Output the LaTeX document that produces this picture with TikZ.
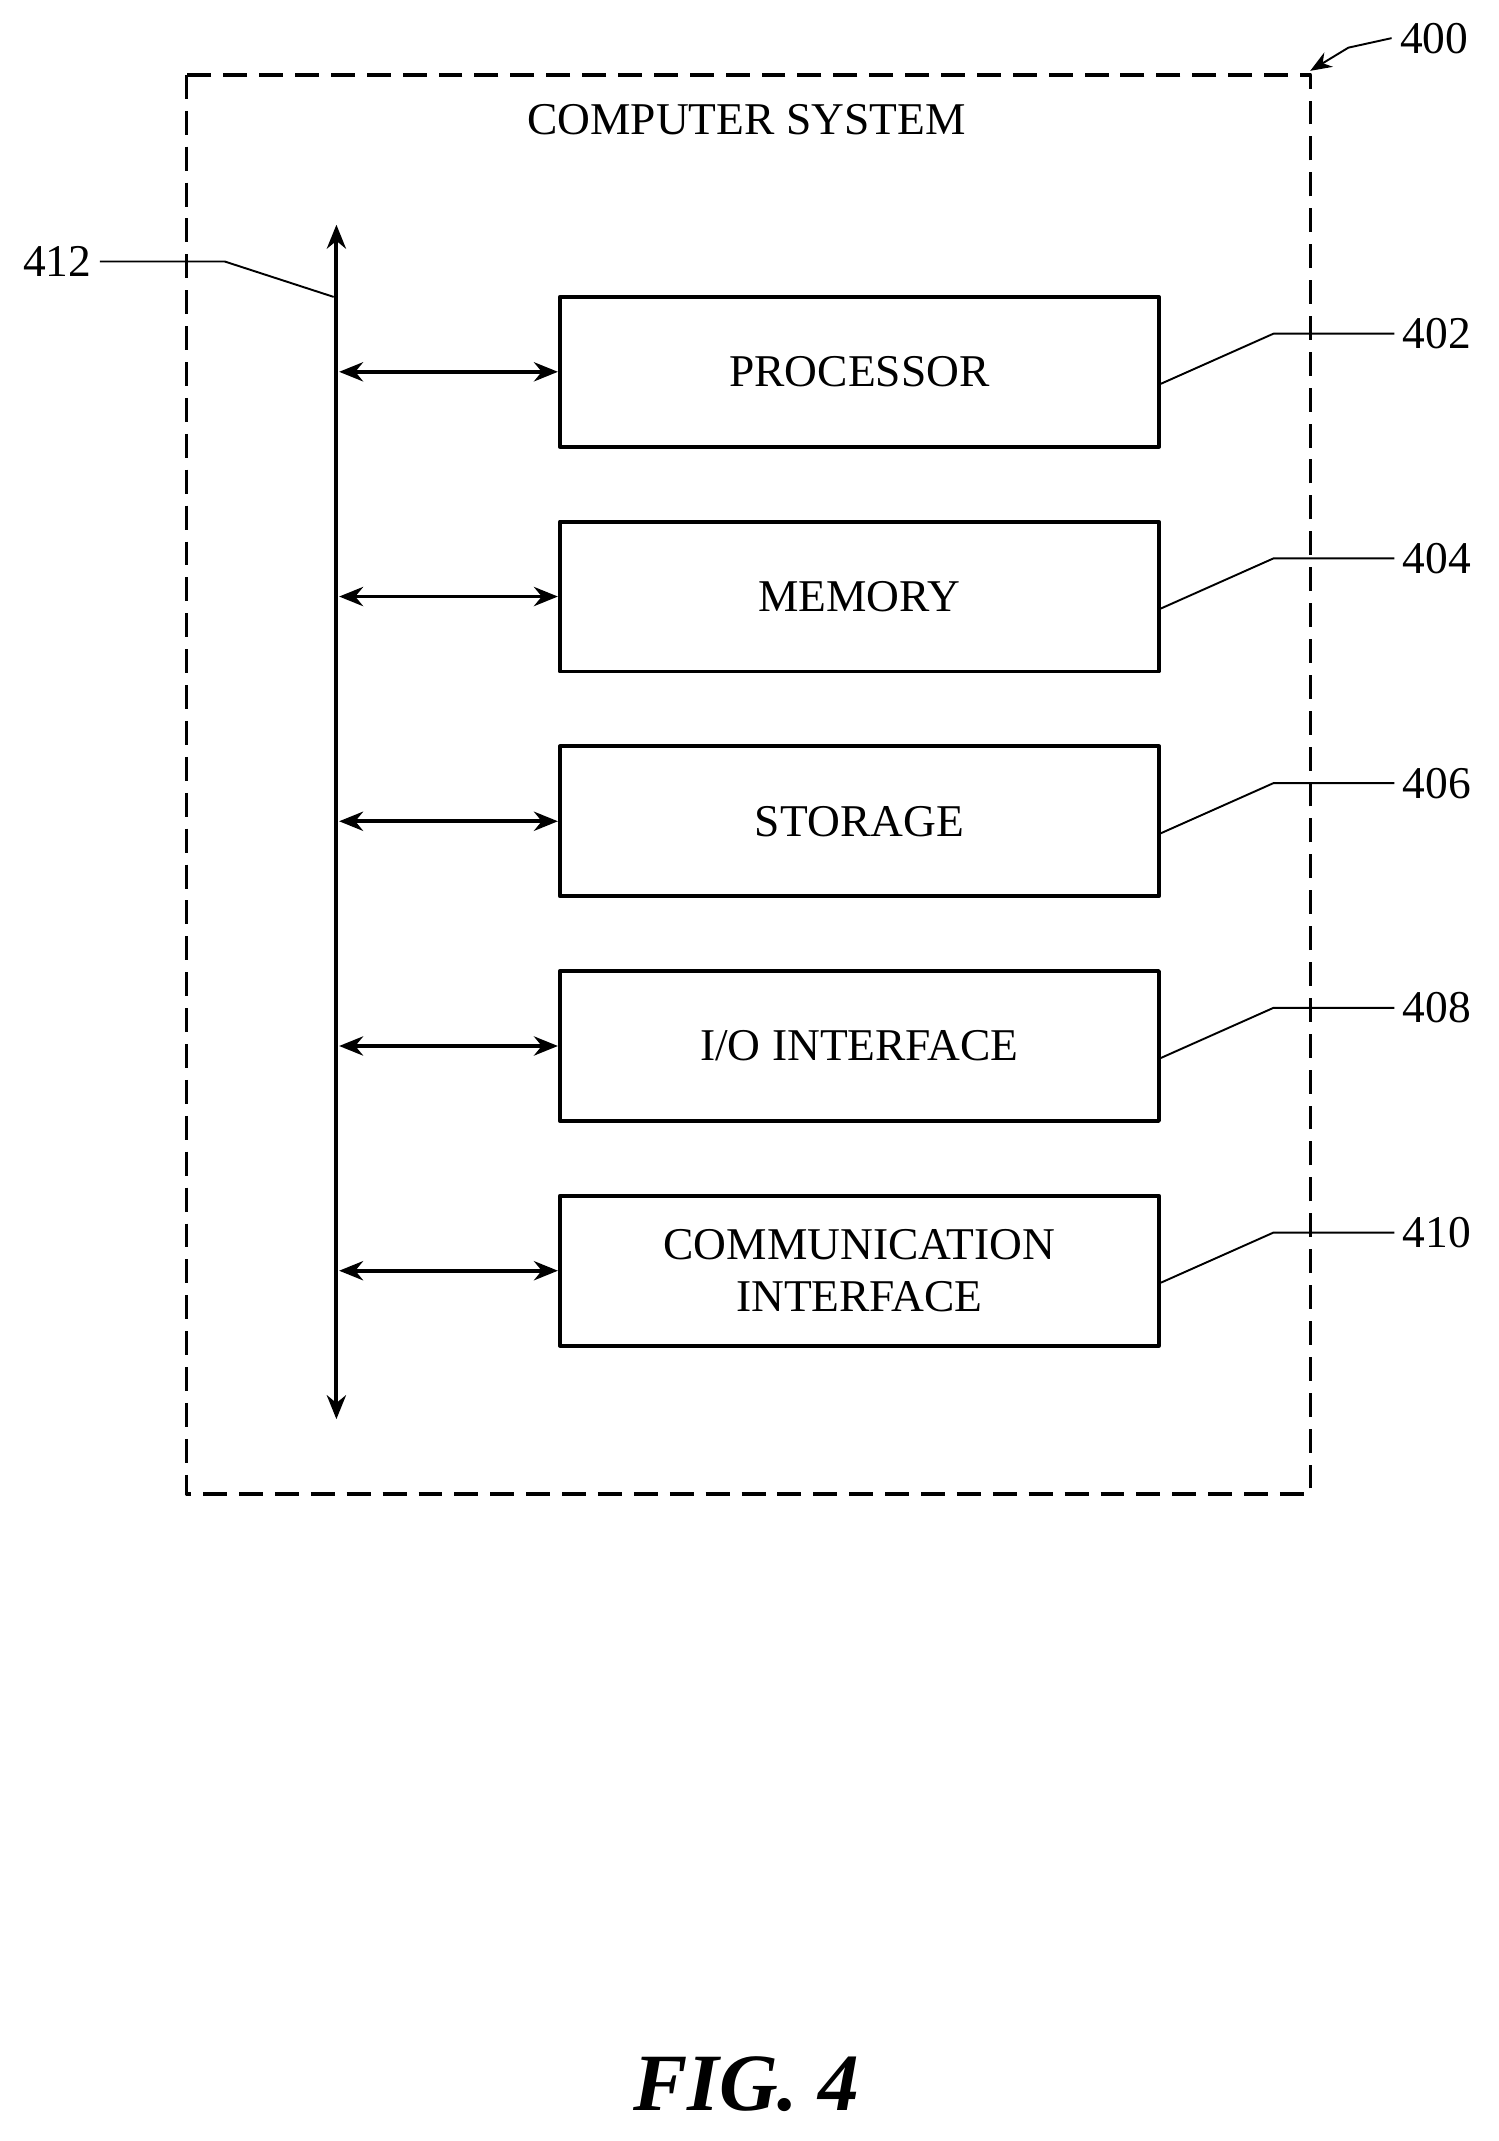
\documentclass[tikz,border=0pt]{standalone}
\usepackage{fontspec}
\setmainfont{Liberation Serif}
\usetikzlibrary{positioning,arrows.meta}
\begin{document}
\begin{tikzpicture}[x=0.02cm,y=-0.02cm,line join=round,>=stealth,font=\fontsize{19}{22}\selectfont]
 \tikzset{blk/.style={draw,line width=1.6pt,minimum width=8.8cm,minimum height=2.2cm,align=center,inner sep=0pt},
  lead/.style={line width=0.8pt},
  busarr/.style={<->,line width=1.6pt,>={Stealth[length=10pt,width=8pt]}}}
 \useasboundingbox (0,0) rectangle (1100,1572);
 \draw[dashed,line width=1.4pt,dash pattern=on 10pt off 5pt] (137,55) rectangle (962,1097);
 \node (title) at (548,88) {COMPUTER SYSTEM};
 \node (l400) at (1053,28) {400};
 \draw[lead,->,>={Stealth[length=9pt,width=7pt]}] (l400.west) -- (990,35) -- (962,52);
 % bus
 \coordinate (btop) at (247,165);
 \coordinate (bbot) at (247,1042);
 \draw[busarr] (btop) -- (bbot);
 \node (l412) at (42,192) {412};
 \draw[lead] (l412.east) -- (165,192) -- (245,218);
 % blocks
 \foreach \n/\y/\txt in {402/273/PROCESSOR,404/438/MEMORY,406/603/STORAGE,408/768/{I/O INTERFACE},410/933/{COMMUNICATION\\INTERFACE}}{
  \node[blk] (b\n) at (631,\y) {\txt};
  \coordinate (p\n) at (249,\y);
  \draw[busarr] (p\n) -- (b\n.west);
  \node (l\n) at (1055,\y-28) {\n};
  \draw[lead] ([yshift=-5]b\n.east) -- (935,\y-28) -- (l\n.west);
 }
 \node[font=\fontsize{34}{40}\selectfont\bfseries\itshape] (fig) at (548,1530) {FIG. 4};
\end{tikzpicture}
\end{document}
